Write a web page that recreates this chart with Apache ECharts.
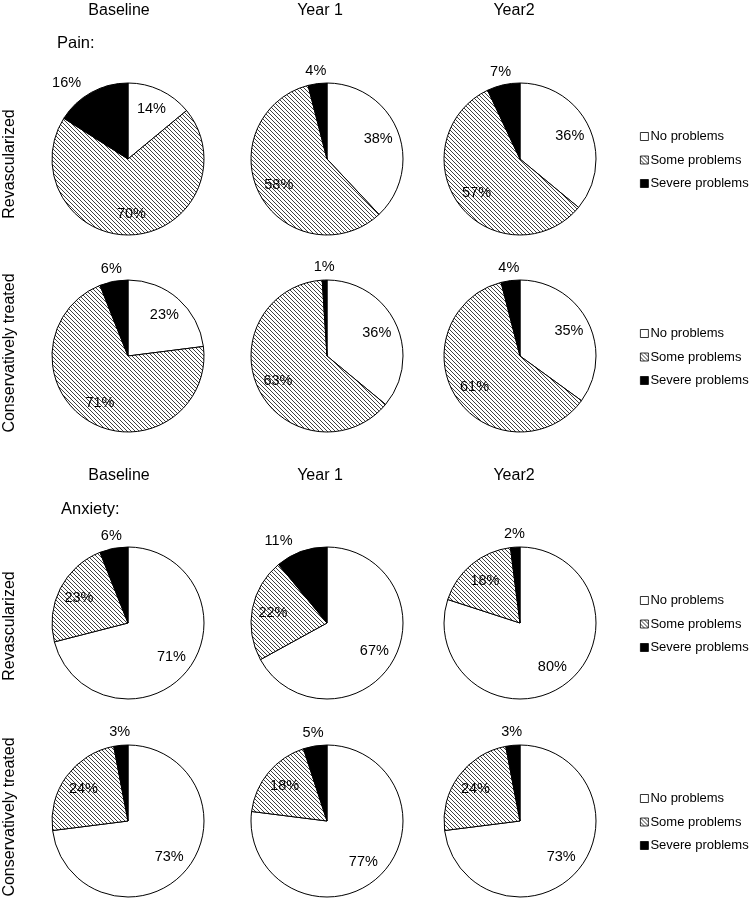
<!DOCTYPE html>
<html>
<head>
<meta charset="utf-8">
<script src="https://cdn.jsdelivr.net/npm/echarts@6/dist/echarts.min.js"></script>
<style>
html,body{margin:0;padding:0;background:#fff;}
#chart{width:750px;height:898px;}
</style>
</head>
<body>
<div id="chart"></div>
<script>
// ---- data ----
const columnLabels = ['Baseline', 'Year 1', 'Year2'];
const rowLabels = ['Revascularized', 'Conservatively treated'];
const sectionLabels = ['Pain:', 'Anxiety:'];
const categories = ['No problems', 'Some problems', 'Severe problems'];

const painRevascularized = [[14, 70, 16], [38, 58, 4], [36, 57, 7]];
const painConservative   = [[23, 71, 6],  [36, 63, 1], [35, 61, 4]];
const anxietyRevascularized = [[71, 23, 6], [67, 22, 11], [80, 18, 2]];
const anxietyConservative   = [[73, 24, 3], [77, 18, 5],  [73, 24, 3]];

// ---- layout ----
const FONT = '"Liberation Sans", Arial, sans-serif';
const colX = [128, 327, 520];
const rowY = [159, 356, 623, 821];
const R = 76;
const headerX = [119, 320, 514];
const headerY = [11, 476];
const rowLabelY = [164, 353, 626, 817];
const LABEL_FS = 14.5;

function hatchCanvas() {
  const s = 4;
  const c = document.createElement('canvas');
  c.width = s; c.height = s;
  const g = c.getContext('2d');
  g.fillStyle = '#ffffff';
  g.fillRect(0, 0, s, s);
  g.strokeStyle = '#404040';
  g.lineWidth = 1;
  g.beginPath();
  g.moveTo(-1, -1); g.lineTo(s + 1, s + 1);
  g.moveTo(-1, s - 1); g.lineTo(1, s + 1);
  g.moveTo(s - 1, -1); g.lineTo(s + 1, 1);
  g.stroke();
  return c;
}
const hatch = { image: hatchCanvas(), repeat: 'repeat' };
const fills = ['#ffffff', hatch, '#000000'];

const rows = [painRevascularized, painConservative, anxietyRevascularized, anxietyConservative];

const labelText = { color: '#000', fontSize: LABEL_FS, fontFamily: FONT, formatter: '{c}%' };

const series = [];
const labelSeries = [];
rows.forEach((row, ri) => {
  row.forEach((vals, ci) => {
    const center = [colX[ci], rowY[ri]];
    // main pie; big "severe" slices get a side-placed outside label
    series.push({
      type: 'pie',
      center: center,
      radius: R,
      startAngle: 90,
      clockwise: true,
      silent: true,
      animation: false,
      avoidLabelOverlap: false,
      label: Object.assign({ show: false, position: 'outside', alignTo: 'none', distanceToLabelLine: 5 }, labelText),
      labelLine: { show: false, length: 11, length2: 0 },
      itemStyle: { borderColor: '#000', borderWidth: 1 },
      data: categories.map((name, k) => ({
        name: name, value: vals[k], itemStyle: { color: fills[k] },
        label: { show: k === 2 && vals[k] >= 10 }
      }))
    });
    // inside labels
    const inDist = 52;
    labelSeries.push({
      type: 'pie', center: center, radius: inDist * 2, startAngle: 90, clockwise: true,
      silent: true, animation: false, avoidLabelOverlap: false, z: 5,
      itemStyle: { color: 'rgba(0,0,0,0)', borderWidth: 0 },
      labelLine: { show: false },
      label: Object.assign({ show: true, position: 'inside' }, labelText),
      data: categories.map((name, k) => ({ name: name, value: vals[k], label: { show: k !== 2 } }))
    });
    // outside labels centred on the ray (small severe slices)
    const outDist = 86;
    labelSeries.push({
      type: 'pie', center: center, radius: outDist * 2, startAngle: 90, clockwise: true,
      silent: true, animation: false, avoidLabelOverlap: false, z: 5,
      itemStyle: { color: 'rgba(0,0,0,0)', borderWidth: 0 },
      labelLine: { show: false },
      label: Object.assign({ show: true, position: 'inside' }, labelText),
      data: categories.map((name, k) => ({ name: name, value: vals[k], label: { show: k === 2 && vals[k] < 10 } }))
    });
  });
});

const legends = rowY.map(y => ({
  orient: 'vertical',
  left: 640,
  top: y - 29,
  padding: 0,
  data: categories,
  icon: 'rect',
  itemWidth: 8,
  itemHeight: 8,
  itemGap: 10.5,
  selectedMode: false,
  textStyle: { fontSize: 13, color: '#000', fontFamily: FONT, padding: [0, 0, 0, -3] },
  itemStyle: { borderColor: '#000', borderWidth: 0.8 }
}));

const graphics = [];
headerY.forEach(y => {
  columnLabels.forEach((t, ci) => {
    graphics.push({ type: 'text', x: headerX[ci], y: y, style: { text: t, fontSize: 16, fontFamily: FONT, fill: '#000', textAlign: 'center', textVerticalAlign: 'middle' } });
  });
});
graphics.push({ type: 'text', x: 57, y: 43, style: { text: sectionLabels[0], fontSize: 16.5, fontFamily: FONT, fill: '#000', textAlign: 'left', textVerticalAlign: 'middle' } });
graphics.push({ type: 'text', x: 61, y: 509, style: { text: sectionLabels[1], fontSize: 16.5, fontFamily: FONT, fill: '#000', textAlign: 'left', textVerticalAlign: 'middle' } });
rowLabelY.forEach((y, i) => {
  graphics.push({ type: 'text', x: 10, y: y, rotation: Math.PI / 2, style: { text: rowLabels[i % 2], fontSize: 16, fontFamily: FONT, fill: '#000', textAlign: 'center', textVerticalAlign: 'middle' } });
});

const chart = echarts.init(document.getElementById('chart'), null, { renderer: 'canvas' });
chart.setOption({
  animation: false,
  backgroundColor: '#ffffff',
  legend: legends,
  series: series.concat(labelSeries),
  graphic: graphics
});
</script>
</body>
</html>
